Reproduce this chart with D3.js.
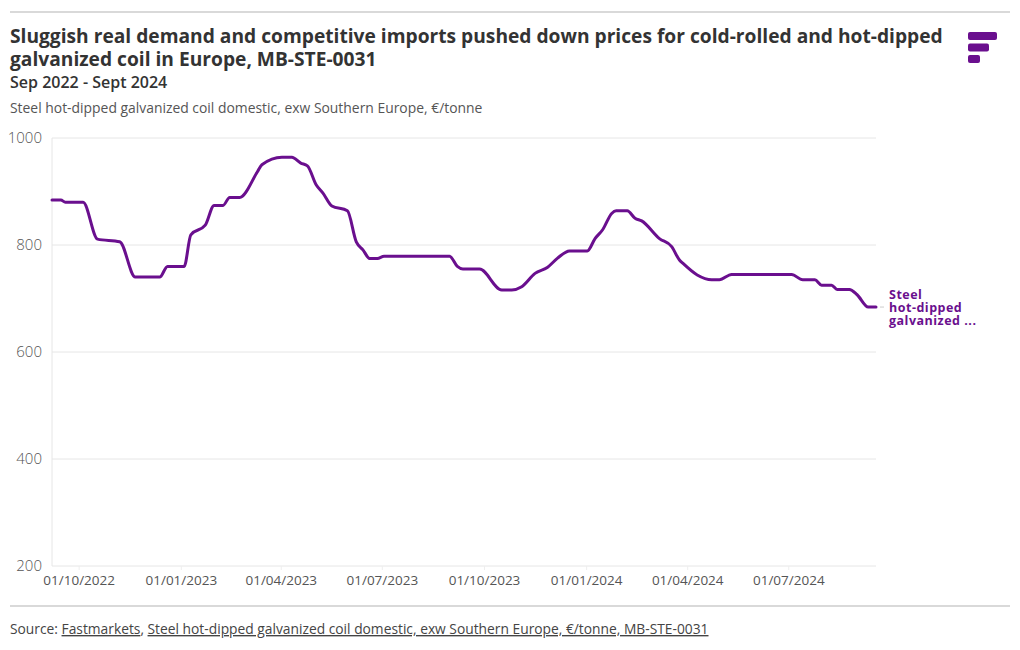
<!DOCTYPE html>
<html>
<head>
<meta charset="utf-8">
<script src="https://cdn.jsdelivr.net/npm/d3@7"></script>
<style>
  html, body { margin: 0; padding: 0; background: #fff; }
  svg { display: block; }
  text { font-family: "Open Sans", Lato, sans-serif; }
</style>
</head>
<body>
<svg id="chart" width="1020" height="650"></svg>
<script>
// ---- Data ----
const dates = [
  "2022-09-07","2022-09-15","2022-09-19","2022-10-05","2022-10-18","2022-11-07",
  "2022-11-21","2022-12-13","2022-12-20","2023-01-04","2023-01-10","2023-01-23",
  "2023-01-31","2023-02-08","2023-02-14","2023-02-23","2023-03-11","2023-03-15",
  "2023-04-02","2023-04-11","2023-04-19","2023-04-25","2023-05-03","2023-05-09",
  "2023-05-17","2023-05-31","2023-06-08","2023-06-14","2023-06-20","2023-06-27",
  "2023-07-03","2023-08-31","2023-09-07","2023-09-12","2023-09-27","2023-10-17",
  "2023-10-26","2023-11-04","2023-11-16","2023-11-27","2023-12-06","2023-12-17",
  "2024-01-02","2024-01-09","2024-01-16","2024-01-24","2024-01-28","2024-02-07",
  "2024-02-14","2024-02-20","2024-03-07","2024-03-18","2024-03-25","2024-03-28",
  "2024-04-10","2024-04-23","2024-04-30","2024-05-11","2024-07-04","2024-07-14",
  "2024-07-25","2024-07-31","2024-08-09","2024-08-14","2024-08-25","2024-09-01",
  "2024-09-11","2024-09-18"
];
const prices = [
  884, 884, 880, 880, 811, 806,
  740, 740, 760, 760, 819, 837,
  874, 874, 889, 889, 937, 950,
  964, 964, 953, 948, 912, 897,
  873, 864, 806, 791, 775, 775,
  779, 779, 760, 755, 755, 716,
  716, 722, 747, 758, 775, 789,
  789, 812, 829, 859, 864, 864,
  850, 845, 812, 797, 772, 766,
  744, 735, 735, 745, 745, 735,
  735, 725, 725, 717, 717, 707,
  684, 684
];
const yTicks = [200, 400, 600, 800, 1000];
const xTickDates = ["2022-10-01","2023-01-01","2023-04-01","2023-07-01","2023-10-01","2024-01-01","2024-04-01","2024-07-01"];
const seriesName = ["Steel", "hot-dipped", "galvanized ..."];

const titleLines = [
  "Sluggish real demand and competitive imports pushed down prices for cold-rolled and hot-dipped",
  "galvanized coil in Europe, MB-STE-0031"
];
const subtitle = "Sep 2022 - Sept 2024";
const unitLine = "Steel hot-dipped galvanized coil domestic, exw Southern Europe, €/tonne";

// ---- Setup ----
const parse = d3.utcParse("%Y-%m-%d");
const data = dates.map((d, i) => ({ date: parse(d), value: prices[i] }));
const purple = "#6a0f8e";

const svg = d3.select("#chart");
const margin = { left: 52, right: 876, top: 138, bottom: 566 };

const x = d3.scaleUtc()
  .domain([parse("2022-09-07"), parse("2024-09-18")])
  .range([margin.left, margin.right]);
const y = d3.scaleLinear().domain([200, 1000]).range([margin.bottom, margin.top]);

// top & bottom rules
svg.append("line").attr("x1", 10).attr("x2", 1010).attr("y1", 12).attr("y2", 12)
  .attr("stroke", "#d9d9d9").attr("stroke-width", 2);
svg.append("line").attr("x1", 10).attr("x2", 1010).attr("y1", 606).attr("y2", 606)
  .attr("stroke", "#d9d9d9").attr("stroke-width", 2);

// titles (one text element, two lines)
const title = svg.append("text").attr("x", 10).attr("y", 43)
  .attr("font-size", 19.2).attr("font-weight", 700).attr("fill", "#333");
title.selectAll("tspan").data(titleLines).join("tspan")
  .attr("x", 10).attr("dy", (d, i) => i === 0 ? 0 : 23)
  .text(d => d);
svg.append("text").attr("x", 10).attr("y", 88)
  .attr("font-size", 16).attr("font-weight", 600).attr("fill", "#333").text(subtitle);
svg.append("text").attr("x", 10).attr("y", 113)
  .attr("font-size", 13.9).attr("font-weight", 400).attr("fill", "#555").text(unitLine);

// logo
const logoBars = [29, 21, 12];
svg.append("g").selectAll("rect").data(logoBars).join("rect")
  .attr("x", 968).attr("y", (d, i) => 32 + i * 11.5)
  .attr("width", d => d).attr("height", 8).attr("rx", 2)
  .attr("fill", purple);

// grid
svg.append("g").selectAll("line").data(yTicks).join("line")
  .attr("x1", margin.left).attr("x2", margin.right)
  .attr("y1", d => y(d)).attr("y2", d => y(d))
  .attr("stroke", "#e6e6e6").attr("stroke-width", 1);
svg.append("line").attr("x1", margin.left).attr("x2", margin.left)
  .attr("y1", margin.top).attr("y2", margin.bottom)
  .attr("stroke", "#e6e6e6");

// y labels
svg.append("g").selectAll("text").data(yTicks).join("text")
  .attr("x", 42).attr("y", d => y(d) + 5)
  .attr("text-anchor", "end").attr("font-size", 15).attr("font-weight", 300)
  .attr("font-family", "Lato, sans-serif")
  .attr("fill", "#555").text(d => d);

// x axis
const xt = xTickDates.map(parse);
const xAxis = d3.axisBottom(x).tickValues(xt).tickSize(4).tickPadding(5)
  .tickFormat(d3.utcFormat("%d/%m/%Y"));
const gx = svg.append("g").attr("transform", `translate(0,${margin.bottom})`).call(xAxis);
gx.select(".domain").remove();
gx.selectAll(".tick line").attr("stroke", "#eeeeee");
gx.selectAll(".tick text").attr("font-size", 13.5).attr("font-weight", 400)
  .attr("fill", "#555").attr("font-family", "Lato, sans-serif");

// line
const line = d3.line().x(d => x(d.date)).y(d => y(d.value)).curve(d3.curveMonotoneX);
svg.append("path").datum(data).attr("d", line)
  .attr("fill", "none").attr("stroke", purple).attr("stroke-width", 3)
  .attr("stroke-linejoin", "round").attr("stroke-linecap", "round");

// end label (one text element, three lines)
const last = data[data.length - 1];
svg.append("line").attr("x1", x(last.date) + 4).attr("x2", x(last.date) + 8)
  .attr("y1", y(last.value)).attr("y2", y(last.value))
  .attr("stroke", "#ccc").attr("stroke-width", 1);
const endLabel = svg.append("text").attr("x", 889).attr("y", y(last.value) - 8.5)
  .attr("font-size", 12.5).attr("font-weight", 700).attr("letter-spacing", 0.5)
  .attr("fill", purple);
endLabel.selectAll("tspan").data(seriesName).join("tspan")
  .attr("x", 889).attr("dy", (d, i) => i === 0 ? 0 : 13)
  .text(d => d);

// source
const src = svg.append("text").attr("x", 10).attr("y", 634)
  .attr("font-size", 13.8).attr("fill", "#444");
src.append("tspan").text("Source: ");
src.append("tspan").attr("text-decoration", "underline").text("Fastmarkets");
src.append("tspan").text(", ");
src.append("tspan").attr("text-decoration", "underline")
  .text("Steel hot-dipped galvanized coil domestic, exw Southern Europe, €/tonne, MB-STE-0031");
</script>
</body>
</html>
